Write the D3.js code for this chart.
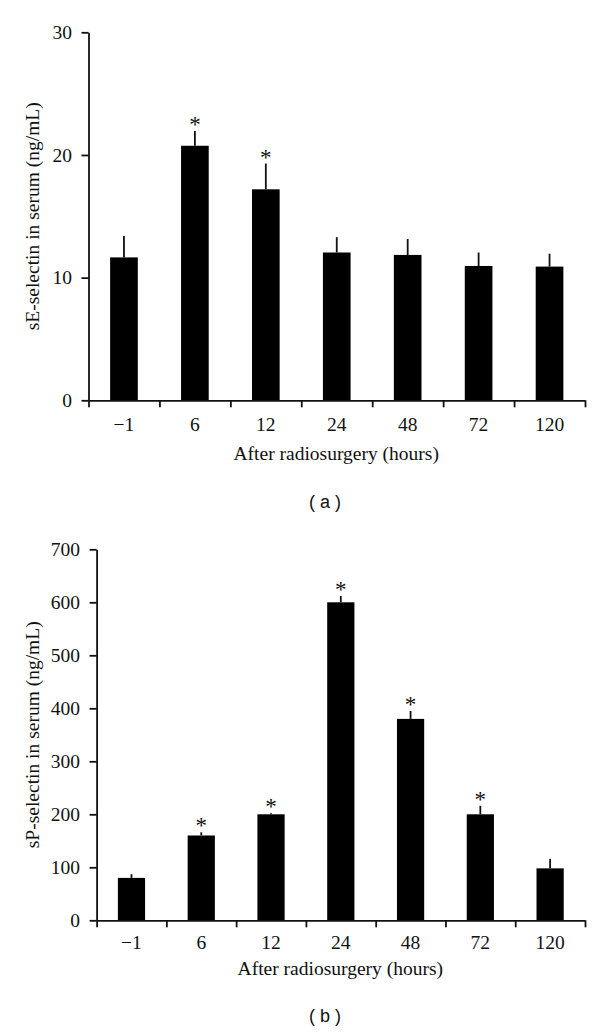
<!DOCTYPE html>
<html>
<head>
<meta charset="utf-8">
<script src="https://cdn.jsdelivr.net/npm/d3@7"></script>
<style>
  html, body { margin: 0; padding: 0; background: #fff; }
  svg { display: block; }
</style>
</head>
<body>
<svg id="chart" width="600" height="1034"></svg>
<script>
// ---- Data ----
const categories = ["\u22121", "6", "12", "24", "48", "72", "120"];

const eValues = [11.65, 20.75, 17.2, 12.05, 11.85, 10.95, 10.9];
const eErrors = [1.75, 1.2, 2.1, 1.25, 1.3, 1.1, 1.05];
const eSignificant = [false, true, true, false, false, false, false];
const eTicks = [0, 10, 20, 30];

const pValues = [80, 160, 200, 600, 380, 200, 98];
const pErrors = [7, 6, 2, 12, 15, 16, 18];
const pSignificant = [false, true, true, true, true, true, false];
const pTicks = [0, 100, 200, 300, 400, 500, 600, 700];

const xTitle = "After radiosurgery (hours)";

// ---- Layout ----
const svg = d3.select("#chart");
const serif = "'Liberation Serif', 'Times New Roman', serif";
const sans = "'Liberation Sans', Arial, sans-serif";
const fs = 19.5;
const ink = "#111";

const panels = [
  { values: eValues, errors: eErrors, sig: eSignificant, ticks: eTicks,
    yLabel: "sE-selectin in serum (ng/mL)", caption: "( a )",
    left: 88.5, right: 585, top: 32.3, bottom: 400.3,
    catBase: 30.5, titleBase: 460, capBase: 508 },
  { values: pValues, errors: pErrors, sig: pSignificant, ticks: pTicks,
    yLabel: "sP-selectin in serum (ng/mL)", caption: "( b )",
    left: 96.6, right: 585, top: 549.3, bottom: 920.3,
    catBase: 28.5, titleBase: 975, capBase: 1022 }
];

panels.forEach(p => {
  const g = svg.append("g");
  const yMax = p.ticks[p.ticks.length - 1];
  const y = d3.scaleLinear().domain([0, yMax]).range([p.bottom, p.top]);
  const x = d3.scaleBand().domain(categories).range([p.left, p.right]).padding(0);
  const xb = d3.scaleLinear().domain([0, categories.length]).range([p.left, p.right]);
  const barFrac = 0.39;
  const bw = x.step() * barFrac;
  const cx = c => x(c) + x.step() / 2;

  // bars
  g.selectAll("rect.bar").data(categories).join("rect")
    .attr("x", c => cx(c) - bw / 2)
    .attr("width", bw)
    .attr("y", (c, i) => y(p.values[i]))
    .attr("height", (c, i) => y(0) - y(p.values[i]))
    .attr("fill", "#000");

  // error bars (upper only, no caps)
  g.selectAll("line.err").data(categories).join("line")
    .attr("x1", c => cx(c)).attr("x2", c => cx(c))
    .attr("y1", (c, i) => y(p.values[i]))
    .attr("y2", (c, i) => y(p.values[i] + p.errors[i]))
    .attr("stroke", ink).attr("stroke-width", 1.8);

  // asterisks
  g.selectAll("text.sig").data(categories.filter((c, i) => p.sig[i])).join("text")
    .attr("x", c => cx(c))
    .attr("y", c => { const i = categories.indexOf(c); return y(p.values[i] + p.errors[i]) + 1; })
    .attr("text-anchor", "middle")
    .attr("font-family", serif).attr("font-size", 23)
    .attr("fill", ink)
    .text("*");

  // y axis
  const ya = g.append("g").attr("transform", `translate(${p.left},0)`)
    .call(d3.axisLeft(y).tickValues(p.ticks).tickSize(7).tickSizeOuter(0).tickPadding(9.5).tickFormat(d3.format("d")));
  ya.select(".domain").attr("stroke", ink).attr("stroke-width", 1.8);
  ya.selectAll(".tick line").attr("stroke", ink).attr("stroke-width", 1.8);
  ya.selectAll(".tick text").attr("font-family", serif).attr("font-size", fs).attr("fill", ink);

  // x axis: boundary ticks
  const xa = g.append("g").attr("transform", `translate(0,${p.bottom})`)
    .call(d3.axisBottom(xb).tickValues(d3.range(categories.length + 1)).tickSize(7).tickSizeOuter(0).tickFormat(""));
  xa.select(".domain").attr("stroke", ink).attr("stroke-width", 1.8);
  xa.selectAll(".tick line").attr("stroke", ink).attr("stroke-width", 1.8);

  // x axis: category labels
  const xl = g.append("g").attr("transform", `translate(0,${p.bottom})`)
    .call(d3.axisBottom(x).tickSize(0).tickPadding(0));
  xl.select(".domain").remove();
  xl.selectAll(".tick text").attr("y", p.catBase).attr("dy", 0)
    .attr("font-family", serif).attr("font-size", fs).attr("fill", ink);

  // x title
  g.append("text")
    .attr("x", (p.left + p.right) / 2 - 0.5)
    .attr("y", p.titleBase)
    .attr("text-anchor", "middle")
    .attr("font-family", serif).attr("font-size", fs).attr("fill", ink)
    .text(xTitle);

  // y title
  g.append("text")
    .attr("transform", `translate(38.5,${(p.top + p.bottom) / 2}) rotate(-90)`)
    .attr("text-anchor", "middle")
    .attr("font-family", serif).attr("font-size", fs).attr("fill", ink)
    .text(p.yLabel);

  // caption
  g.append("text")
    .attr("x", 325)
    .attr("y", p.capBase)
    .attr("text-anchor", "middle")
    .attr("font-family", sans).attr("font-size", 18).attr("fill", ink)
    .style("white-space", "pre")
    .text(p.caption);
});
</script>
</body>
</html>
